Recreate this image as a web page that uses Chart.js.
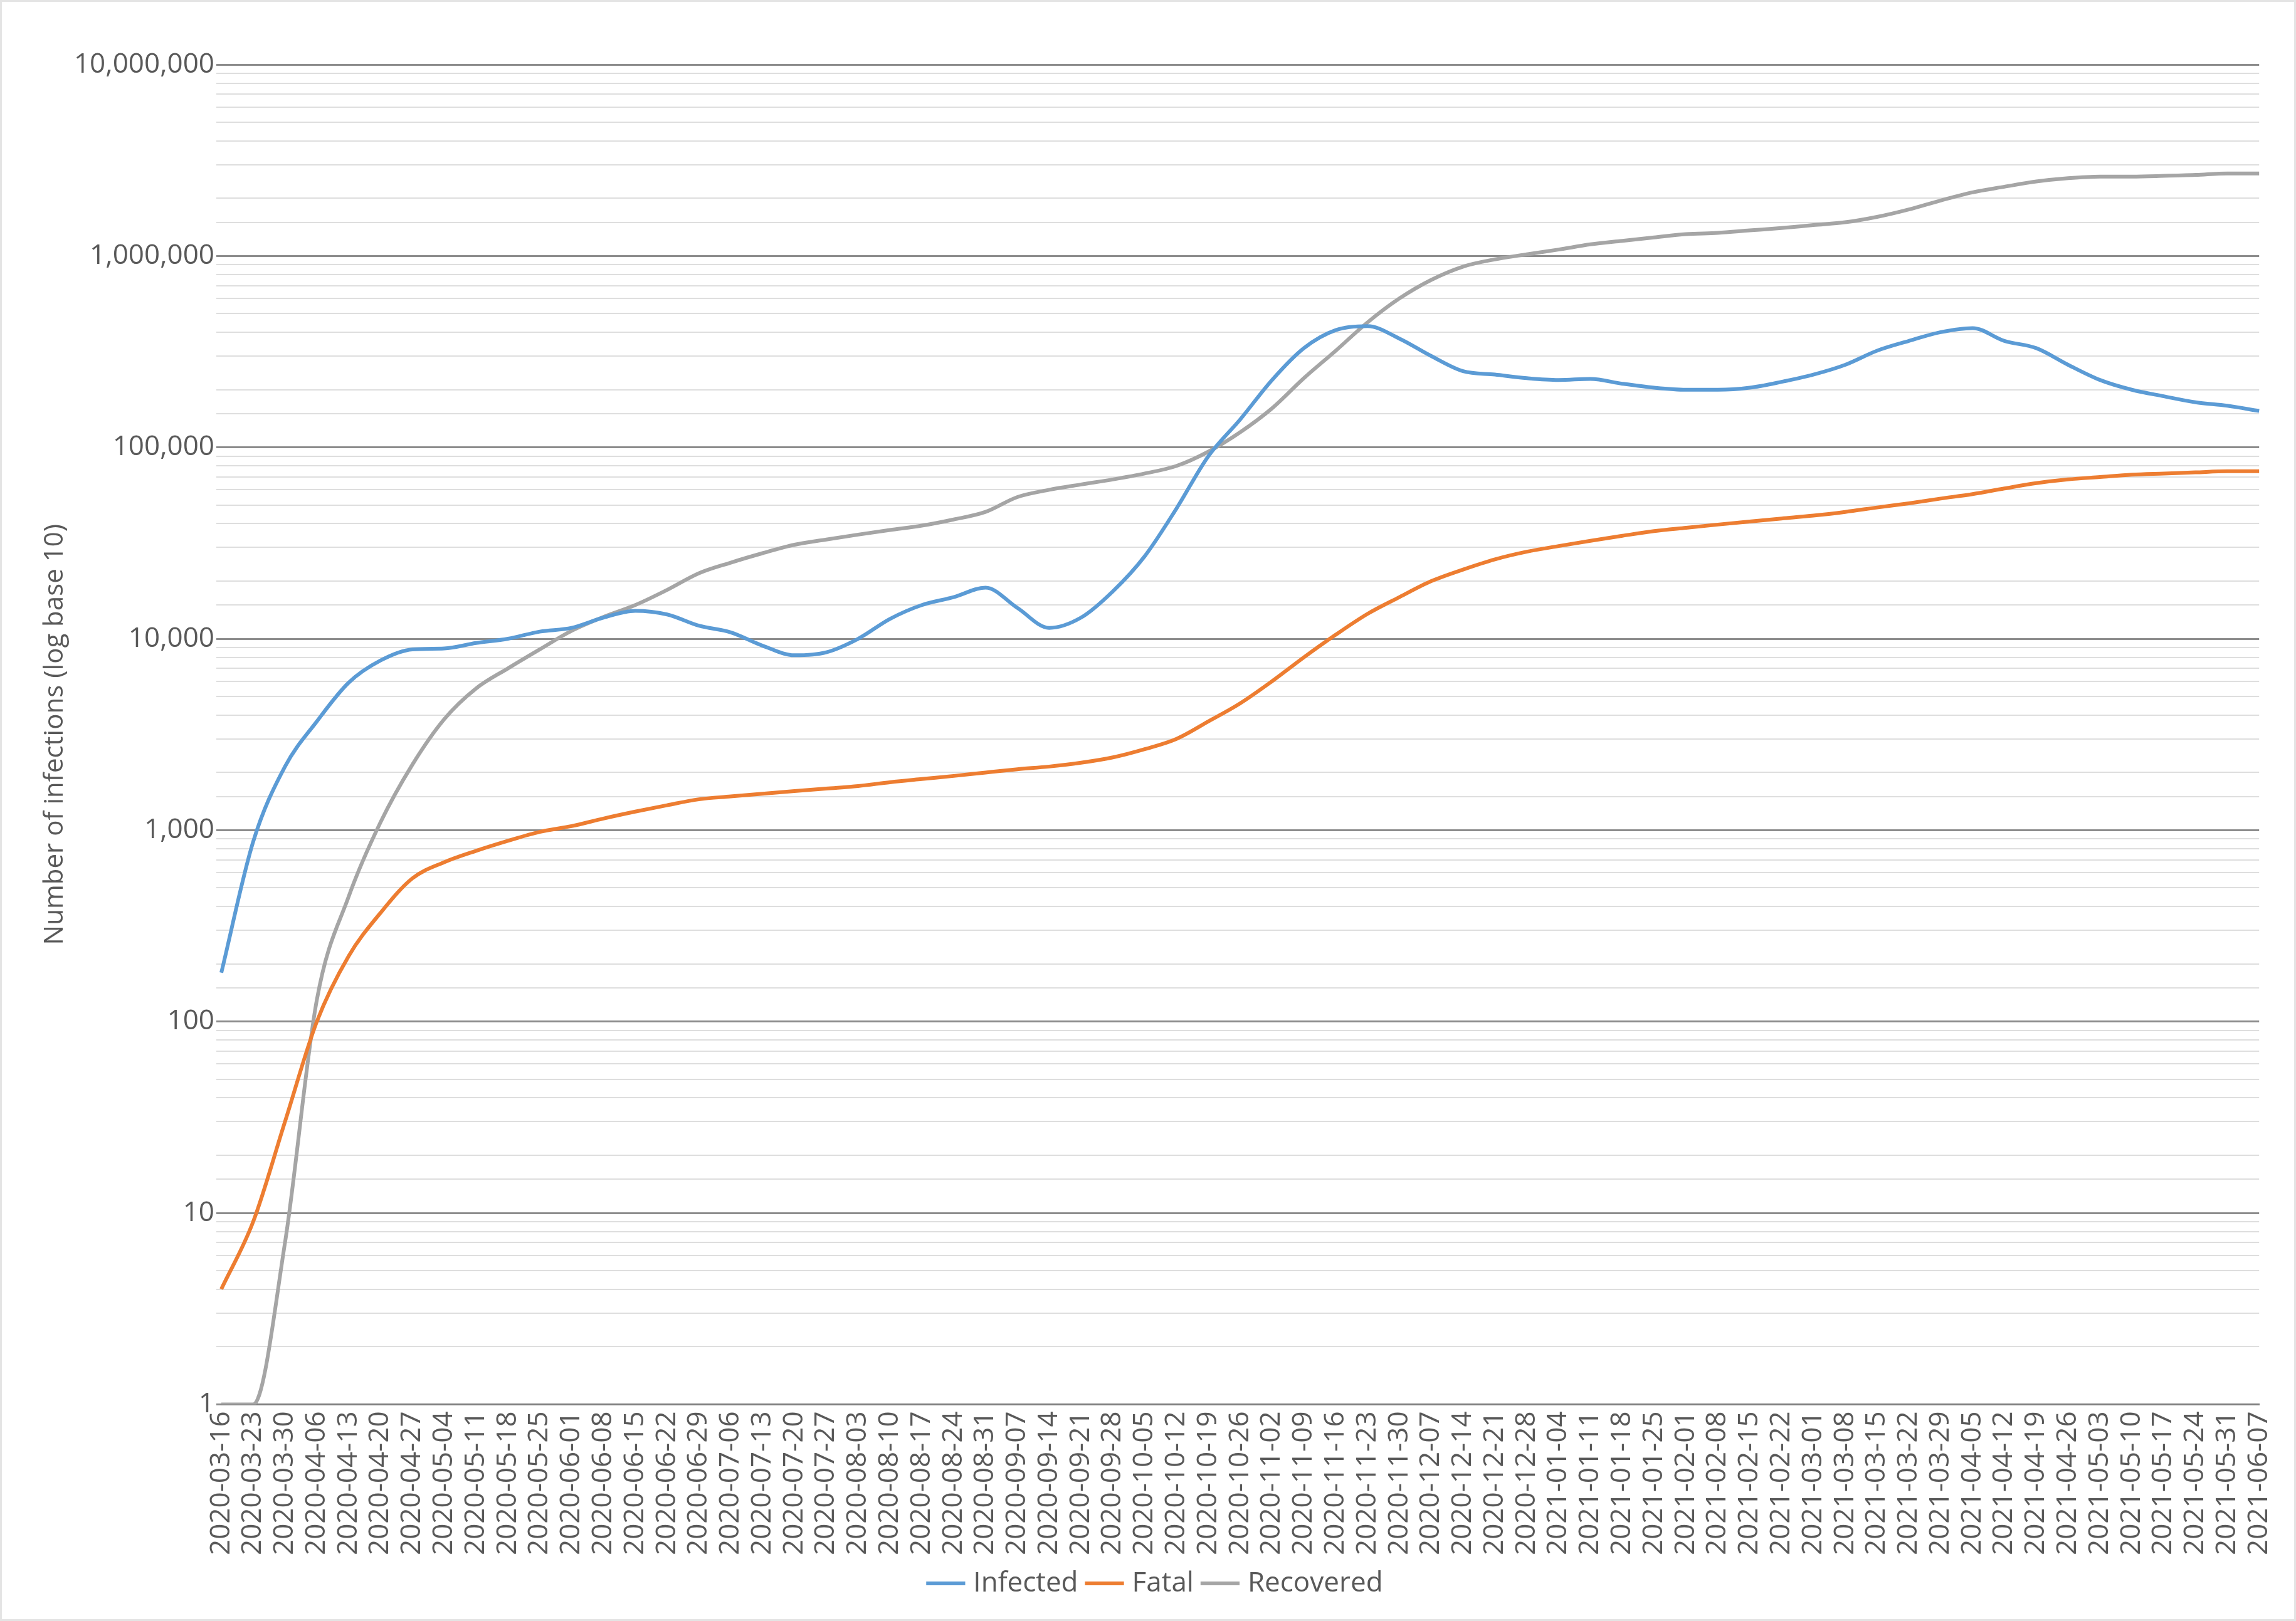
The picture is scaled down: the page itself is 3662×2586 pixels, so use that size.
<!DOCTYPE html>
<html>
<head>
<meta charset="utf-8">
<script src="https://cdn.jsdelivr.net/npm/chart.js@4/dist/chart.umd.min.js"></script>
<style>
  html, body { margin: 0; padding: 0; background: #fff; }
  #wrap { width: 3662px; height: 2586px; box-sizing: border-box; border: 3px solid #e4e4e4; }
</style>
</head>
<body>
<div id="wrap"><canvas id="c"></canvas></div>
<script>
// weekly dates, 2020-03-16 .. 2021-06-07
const dates = [];
for (let d = new Date(Date.UTC(2020, 2, 16)); d <= new Date(Date.UTC(2021, 5, 7)); d.setUTCDate(d.getUTCDate() + 7)) {
  dates.push(d.toISOString().slice(0, 10));
}

const infected = [180, 870, 2150, 3700, 5900, 7700, 8800, 8900, 9500, 10000,
  10900, 11400, 12900, 14000, 13400, 11700, 10800, 9200, 8200, 8500,
  10000, 12700, 15000, 16500, 18500, 14500, 11400, 12900, 17700, 27000,
  48000, 90000, 140000, 225000, 330000, 410000, 430000, 370000, 300000, 250000,
  240000, 230000, 225000, 228000, 215000, 205000, 200000, 200000, 205000, 220000,
  240000, 270000, 320000, 360000, 400000, 420000, 360000, 330000, 270000, 225000,
  200000, 185000, 172000, 165000, 155000];

const fatal = [4, 9, 30, 100, 220, 370, 560, 680, 780, 880,
  980, 1050, 1150, 1250, 1350, 1450, 1500, 1550, 1600, 1650,
  1700, 1780, 1850, 1920, 2000, 2080, 2150, 2250, 2400, 2650,
  3000, 3700, 4600, 6000, 8000, 10500, 13500, 16500, 20000, 23000,
  26000, 28500, 30500, 32500, 34500, 36500, 38000, 39500, 41000, 42500,
  44000, 46000, 48500, 51000, 54000, 57000, 61000, 65000, 68000, 70000,
  72000, 73000, 74000, 75000, 75000];

const recovered = [1, 1, 7, 130, 450, 1100, 2200, 3800, 5500, 7000,
  8800, 11000, 13000, 15000, 18000, 22000, 25000, 28000, 31000, 33000,
  35000, 37000, 39000, 42000, 46000, 55000, 60000, 64000, 68000, 73000,
  80000, 95000, 120000, 160000, 230000, 320000, 450000, 600000, 750000, 880000,
  960000, 1020000, 1080000, 1150000, 1200000, 1250000, 1300000, 1320000, 1360000, 1400000,
  1450000, 1500000, 1600000, 1750000, 1950000, 2150000, 2300000, 2450000, 2550000, 2600000,
  2600000, 2620000, 2650000, 2700000, 2700000];

const isDecade = (v) => Math.abs(Math.log10(v) - Math.round(Math.log10(v))) < 1e-9;

const mk = (label, data, color) => ({
  label: label, data: data, borderColor: color, backgroundColor: color,
  borderWidth: 6, pointRadius: 0, cubicInterpolationMode: "monotone",
});

Chart.defaults.font.family = "'Open Sans', 'DejaVu Sans', sans-serif";
Chart.defaults.color = "#595959";

new Chart(document.getElementById("c"), {
  type: "line",
  data: {
    labels: dates,
    datasets: [
      mk("Infected", infected, "#5B9BD5"),
      mk("Fatal", fatal, "#ED7D31"),
      mk("Recovered", recovered, "#A5A5A5"),
    ],
  },
  options: {
    responsive: true,
    maintainAspectRatio: false,
    animation: false,
    layout: { padding: { left: 60, right: 30, top: 100, bottom: 25 } },
    scales: {
      x: {
        offset: false,
        grid: { display: false },
        border: { color: "#7f7f7f", width: 3 },
        ticks: { autoSkip: false, minRotation: 90, maxRotation: 90, font: { size: 44 }, color: "#595959" },
      },
      y: {
        type: "logarithmic",
        min: 1,
        max: 10000000,
        afterFit: (s) => { s.width = 290; },
        border: { display: false },
        grid: {
          color: (ctx) => (ctx.tick && isDecade(ctx.tick.value) ? "#8c8c8c" : "#dedede"),
          lineWidth: (ctx) => (ctx.tick && isDecade(ctx.tick.value) ? 3 : 2),
        },
        ticks: {
          autoSkip: false,
          font: { size: 44 },
          color: "#595959",
          callback: (v) => (isDecade(v) ? Number(v).toLocaleString("en-US") : ""),
        },
        title: { display: true, text: "Number of infections (log base 10)", font: { size: 42 }, color: "#595959", padding: 0 },
      },
    },
    plugins: {
      legend: {
        position: "bottom",
        labels: { usePointStyle: true, pointStyle: "line", boxWidth: 80, font: { size: 44 }, color: "#595959", padding: 20 },
      },
      tooltip: { enabled: false },
    },
  },
});
</script>
</body>
</html>
